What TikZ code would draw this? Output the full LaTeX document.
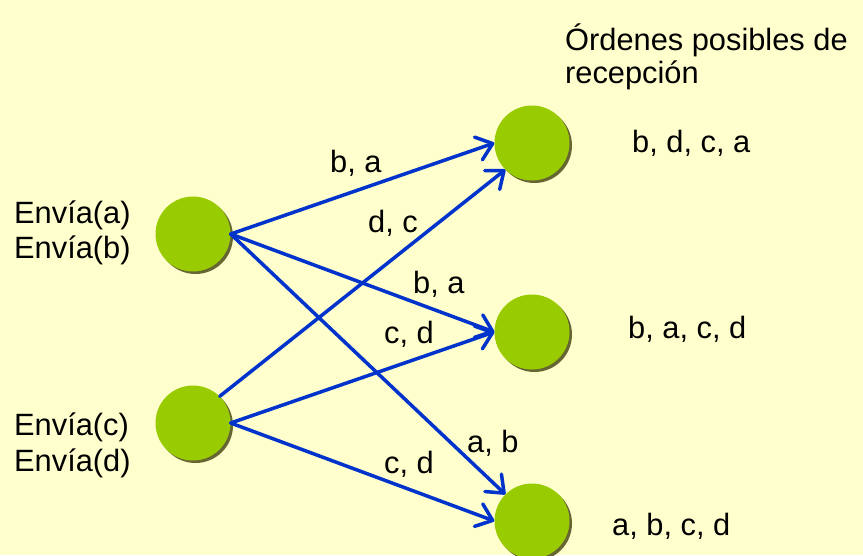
\documentclass[tikz,border=0pt]{standalone}
\usepackage{fontspec}
\setmainfont{Liberation Sans}
\usetikzlibrary{arrows.meta,shadows}
\definecolor{bgc}{RGB}{255,255,206}
\definecolor{nodegreen}{RGB}{153,204,0}
\definecolor{shadowc}{RGB}{102,102,51}
\definecolor{arrblue}{RGB}{0,51,204}
\begin{document}
\begin{tikzpicture}[x=1pt,y=-1pt,
  proc/.style={circle,minimum size=75pt,inner sep=0pt,fill=nodegreen,
    drop shadow={shadow xshift=2.5pt,shadow yshift=-2.5pt,fill=shadowc,opacity=1}},
  arr/.style={draw=arrblue,line width=3.5pt,line cap=round,
    -{Straight Barb[length=15pt,width=24pt,line width=3.5pt,round]}},
  txt/.style={anchor=base west,inner sep=0pt,font=\fontsize{30.8}{35}\selectfont}]
\fill[bgc] (0,0) rectangle (863,555);
\useasboundingbox (0,0) rectangle (863,555);
\node[proc] (A) at (193,234) {};
\node[proc] (B) at (193,423) {};
\node[proc] (T1) at (532,143) {};
\node[proc] (T2) at (532,332) {};
\node[proc] (T3) at (532,521) {};
\draw[arr] (A.east) -- (T1.west);
\draw[arr] (A.east) -- (T2.west);
\draw[arr] (A.east) -- (T3.north west);
\draw[arr] (B.north east) -- (T1.south west);
\draw[arr] (B.east) -- (T2.west);
\draw[arr] (B.east) -- (T3.west);
\node[txt] (ea) at (14,223) {Envía(a)};
\node[txt] (eb) at (14,258) {Envía(b)};
\node[txt] (ec) at (14,435) {Envía(c)};
\node[txt] (ed) at (14,471) {Envía(d)};
\node[txt] (h1) at (565,50) {Órdenes posibles de};
\node[txt] (h2) at (565,83) {recepción};
\node[txt] (r1) at (632,152) {b, d, c, a};
\node[txt] (r2) at (628,338) {b, a, c, d};
\node[txt] (r3) at (612,535) {a, b, c, d};
\node[txt] (l1) at (330,172) {b, a};
\node[txt] (l2) at (368,232) {d, c};
\node[txt] (l3) at (413,293) {b, a};
\node[txt] (l4) at (384,343) {c, d};
\node[txt] (l5) at (467,452) {a, b};
\node[txt] (l6) at (384,473) {c, d};
\end{tikzpicture}
\end{document}
